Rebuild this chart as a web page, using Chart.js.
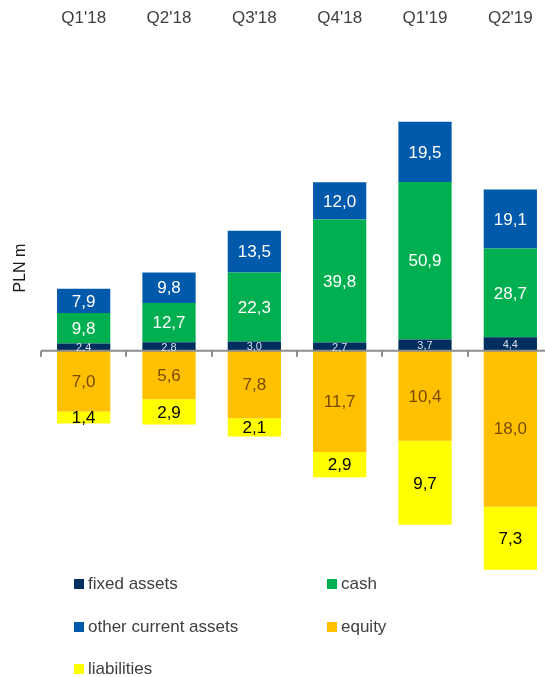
<!DOCTYPE html>
<html lang="en">
<head>
  <meta charset="UTF-8" />
  <title>Balance sheet structure, PLN m</title>
  <script src="https://cdn.jsdelivr.net/npm/chart.js"></script>
  <style>
    html, body {
      margin: 0;
      padding: 0;
      background: #fff;
      overflow: hidden;
      font-family: Arial, "Liberation Sans", sans-serif;
    }

    #wrap {
      position: relative;
      width: 545px;
      height: 677px;
      overflow: hidden;
    }

    #bsChart {
      position: absolute;
      left: 0;
      top: 0;
    }

    .legend-item {
      position: absolute;
      display: flex;
      align-items: center;
      font-size: 17px;
      color: #404040;
      white-space: nowrap;
    }

    .legend-item .box {
      width: 10px;
      height: 10px;
      margin-right: 4px;
    }
  </style>
</head>
<body>
  <div id="wrap">
    <canvas id="bsChart" width="556" height="677"></canvas>
    <div id="legend"></div>
  </div>

  <script>
    const quarters = ["Q1'18", "Q2'18", "Q3'18", "Q4'18", "Q1'19", "Q2'19"];

    // assets (drawn above zero)
    const fixedAssets = [2.4, 2.8, 3.0, 2.7, 3.7, 4.4];
    const cash = [9.8, 12.7, 22.3, 39.8, 50.9, 28.7];
    const otherCurrentAssets = [7.9, 9.8, 13.5, 12.0, 19.5, 19.1];

    // equity & liabilities (drawn below zero)
    const equity = [7.0, 5.6, 7.8, 11.7, 10.4, 18.0];
    const liabilities = [1.4, 2.9, 2.1, 2.9, 9.7, 7.3];

    // axis ranges: lower half uses its own stretched axis
    const Y_MAX = 103;
    const Y_MIN = -80.6;
    const NEG_STRETCH = 2.8;

    const fmt = v => Math.abs(v).toFixed(1).replace(".", ",");

    const zeroLine = {
      id: "zeroLine",
      afterDatasetsDraw(chart) {
        const { ctx, chartArea } = chart;
        const y0 = chart.scales.y.getPixelForValue(0);
        const step = (chartArea.right - chartArea.left) / quarters.length;
        ctx.save();
        ctx.strokeStyle = "#8c8c8c";
        ctx.lineWidth = 2;
        ctx.beginPath();
        ctx.moveTo(chartArea.left, y0);
        ctx.lineTo(chartArea.right, y0);
        for (let i = 0; i <= quarters.length; i++) {
          const x = Math.round(chartArea.left + i * step);
          ctx.moveTo(x, y0);
          ctx.lineTo(x, y0 + 6);
        }
        ctx.stroke();
        ctx.restore();
      }
    };

    const segmentLabels = {
      id: "segmentLabels",
      afterDatasetsDraw(chart) {
        const { ctx } = chart;
        ctx.save();
        ctx.textAlign = "center";
        ctx.textBaseline = "middle";
        chart.data.datasets.forEach((ds, i) => {
          const meta = chart.getDatasetMeta(i);
          ctx.font = (ds.labelSize || 17) + "px Arial, 'Liberation Sans', sans-serif";
          ctx.fillStyle = ds.labelColor;
          meta.data.forEach((bar, j) => {
            const yc = (bar.y + bar.base) / 2;
            ctx.fillText(fmt(ds.data[j]), bar.x, yc + 1);
          });
        });
        ctx.restore();
      }
    };

    const yTitle = {
      id: "yTitle",
      afterDraw(chart) {
        const { ctx } = chart;
        ctx.save();
        ctx.translate(21, 268);
        ctx.rotate(-Math.PI / 2);
        ctx.font = "16px Arial, 'Liberation Sans', sans-serif";
        ctx.fillStyle = "#1a1a1a";
        ctx.textAlign = "center";
        ctx.textBaseline = "middle";
        ctx.fillText("PLN m", 0, 0);
        ctx.restore();
      }
    };

    const bar = { barPercentage: 0.624, categoryPercentage: 1, borderWidth: 0 };

    const chart = new Chart(document.getElementById("bsChart"), {
      type: "bar",
      data: {
        labels: quarters,
        datasets: [
          { label: "fixed assets", data: fixedAssets, backgroundColor: "#002f5f", yAxisID: "y", labelColor: "#d7deea", labelSize: 11, ...bar },
          { label: "cash", data: cash, backgroundColor: "#00b050", yAxisID: "y", labelColor: "#ffffff", ...bar },
          { label: "other current assets", data: otherCurrentAssets, backgroundColor: "#005aab", yAxisID: "y", labelColor: "#ffffff", ...bar },
          { label: "equity", data: equity.map(v => -v), backgroundColor: "#ffc000", yAxisID: "y1", labelColor: "#7a4a00", ...bar },
          { label: "liabilities", data: liabilities.map(v => -v), backgroundColor: "#ffff00", yAxisID: "y1", labelColor: "#000000", ...bar },
        ],
      },
      options: {
        responsive: false,
        animation: false,
        layout: { padding: { left: 41, right: 3, top: 4, bottom: 77 } },
        plugins: {
          legend: { display: false },
          tooltip: { enabled: false },
        },
        scales: {
          x: {
            position: "top",
            stacked: true,
            grid: { display: false, drawTicks: false },
            border: { display: false },
            ticks: { color: "#404040", font: { size: 17, family: "Arial, 'Liberation Sans', sans-serif" }, padding: 4 },
          },
          y: { stacked: true, display: false, min: Y_MIN, max: Y_MAX },
          y1: { stacked: true, display: false, min: Y_MIN / NEG_STRETCH, max: Y_MAX / NEG_STRETCH },
        },
      },
      plugins: [zeroLine, segmentLabels, yTitle],
    });

    // legend in two columns under the plot
    const legendPos = [
      [74, 584], [327, 584],
      [74, 627], [327, 627],
      [74, 669],
    ];
    const legend = document.getElementById("legend");
    chart.data.datasets.forEach((ds, i) => {
      const item = document.createElement("div");
      item.className = "legend-item";
      item.style.left = legendPos[i][0] + "px";
      item.style.top = (legendPos[i][1] - 10) + "px";
      item.innerHTML = `<span class="box" style="background:${ds.backgroundColor}"></span>${ds.label}`;
      legend.appendChild(item);
    });
  </script>
</body>
</html>
